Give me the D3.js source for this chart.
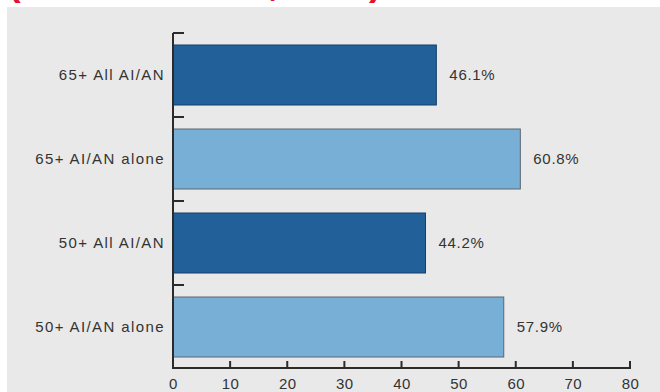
<!DOCTYPE html>
<html>
<head>
<meta charset="utf-8">
<script src="https://cdn.jsdelivr.net/npm/d3@7/dist/d3.min.js"></script>
<style>
  html, body { margin: 0; padding: 0; background: #ffffff; }
  svg { display: block; }
  text { font-family: "Liberation Sans", Arial, sans-serif; }
</style>
</head>
<body>
<svg id="chart" width="660" height="392"></svg>
<script>
// Category labels, top to bottom
const categories = ["65+ All AI/AN", "65+ AI/AN alone", "50+ All AI/AN", "50+ AI/AN alone"];
// Percent values for each category
const values = [46.1, 60.8, 44.2, 57.9];
// Which palette entry each bar uses (0 = all AI/AN, 1 = AI/AN alone)
const groups = [0, 1, 0, 1];
// X axis tick values
const xTicks = [0, 10, 20, 30, 40, 50, 60, 70, 80];

const fills = ["#22609a", "#78afd6"];
const strokes = ["#163f68", "#5b6670"];
const ink = "#333333";

const svg = d3.select("#chart");

// Panel background
svg.append("rect")
  .attr("x", 7).attr("y", 7)
  .attr("width", 653).attr("height", 385)
  .attr("fill", "#e9e9e9");

// Heading, mostly above the visible area
svg.append("text")
  .attr("x", 8).attr("y", -5)
  .attr("fill", "#e8102e")
  .attr("font-weight", "bold")
  .attr("font-size", 38)
  .attr("letter-spacing", 0.3)
  .text("(Share of total, in %)");

const x = d3.scaleLinear().domain([0, 80]).range([173, 630]);
const y = d3.scaleBand().domain(categories).range([33, 369])
  .paddingInner(2 / 7).paddingOuter(1 / 7);

// Bars
svg.append("g").selectAll("rect")
  .data(categories)
  .join("rect")
  .attr("x", x(0))
  .attr("y", d => y(d))
  .attr("width", (d, i) => x(values[i]) - x(0))
  .attr("height", y.bandwidth())
  .attr("fill", (d, i) => fills[groups[i]])
  .attr("stroke", (d, i) => strokes[groups[i]])
  .attr("stroke-width", 1);

// Value labels
svg.append("g").selectAll("text")
  .data(categories)
  .join("text")
  .attr("x", (d, i) => x(values[i]) + 13)
  .attr("y", d => y(d) + y.bandwidth() / 2)
  .attr("dy", "0.36em")
  .attr("font-size", 15)
  .attr("letter-spacing", 0.7)
  .attr("fill", ink)
  .text((d, i) => values[i].toFixed(1) + "%");

// Category labels
svg.append("g").selectAll("text")
  .data(categories)
  .join("text")
  .attr("x", 165)
  .attr("y", d => y(d) + y.bandwidth() / 2)
  .attr("dy", "0.36em")
  .attr("text-anchor", "end")
  .attr("font-size", 15)
  .attr("letter-spacing", 1.4)
  .attr("fill", ink)
  .text(d => d);

// Y axis: line plus ticks at the band boundaries
const yBase = y.range()[1];
const boundaries = d3.range(categories.length).map(i => y.range()[0] + i * y.step());
svg.append("line")
  .attr("x1", x(0)).attr("x2", x(0))
  .attr("y1", y.range()[0]).attr("y2", yBase)
  .attr("stroke", "#2b2b2b").attr("stroke-width", 2);
svg.append("g").selectAll("line")
  .data(boundaries)
  .join("line")
  .attr("x1", x(0)).attr("x2", x(0) + 11)
  .attr("y1", d => d).attr("y2", d => d)
  .attr("stroke", "#2b2b2b").attr("stroke-width", 2);

// X axis
const xAxis = d3.axisBottom(x)
  .tickValues(xTicks)
  .tickSize(0)
  .tickPadding(10)
  .tickFormat(d3.format("d"));
const gx = svg.append("g")
  .attr("transform", `translate(0,${yBase - 1})`)
  .call(xAxis);
gx.select(".domain").remove();
gx.selectAll("text")
  .attr("font-size", 15)
  .attr("font-family", "Liberation Sans, Arial, sans-serif")
  .attr("letter-spacing", 0.5)
  .attr("fill", ink);
svg.append("line")
  .attr("x1", x(0) - 1).attr("x2", x(80) + 1)
  .attr("y1", yBase - 1).attr("y2", yBase - 1)
  .attr("stroke", "#2b2b2b").attr("stroke-width", 2);
svg.append("g").selectAll("line")
  .data(xTicks)
  .join("line")
  .attr("x1", d => x(d)).attr("x2", d => x(d))
  .attr("y1", yBase - 8).attr("y2", yBase - 1)
  .attr("stroke", "#2b2b2b").attr("stroke-width", 2);
</script>
</body>
</html>
